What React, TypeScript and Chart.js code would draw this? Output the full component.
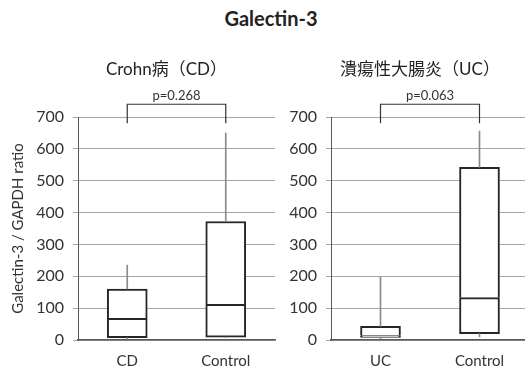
import React, { useEffect, useRef } from 'react';
import { Chart, registerables } from 'chart.js';
Chart.register(...registerables);

const mainTitle = 'Galectin-3';
const yAxisTitle = 'Galectin-3 / GAPDH ratio';
const yMin = 0;
const yMax = 700;
const yStep = 100;

const cdCategories = ['CD', 'Control'];
const cdMin = [3, 8];
const cdQ1 = [7, 9];
const cdMedian = [68, 112];
const cdQ3 = [160, 372];
const cdMax = [235, 650];
const cdTitle = 'Crohn病（CD）';
const cdP = 'p=0.268';

const ucCategories = ['UC', 'Control'];
const ucMin = [3, 10];
const ucQ1 = [8, 20];
const ucMedian = [14, 133];
const ucQ3 = [43, 542];
const ucMax = [198, 656];
const ucTitle = '潰瘍性大腸炎（UC）';
const ucP = 'p=0.063';

const bracketTop = 740;
const bracketLeg = 680;

const LATIN = 'Lato, "Noto Sans CJK JP", sans-serif';

function makeConfig(
  cats: string[], mn: number[], q1: number[], med: number[], q3: number[], mx: number[],
  title: string, p: string, showYTitle: boolean, axisWidth: number, padRight: number
): any {
  const decor = {
    id: 'decor',
    afterDraw(chart: any) {
      const { ctx, chartArea, scales } = chart;
      const x0 = scales.x.getPixelForValue(0);
      const x1 = scales.x.getPixelForValue(1);
      const yTop = scales.y.getPixelForValue(bracketTop);
      const yLeg = scales.y.getPixelForValue(bracketLeg);
      ctx.save();
      ctx.strokeStyle = '#333';
      ctx.lineWidth = 1.2;
      ctx.beginPath();
      ctx.moveTo(x0, yLeg);
      ctx.lineTo(x0, yTop);
      ctx.lineTo(x1, yTop);
      ctx.lineTo(x1, yLeg);
      ctx.stroke();
      ctx.fillStyle = '#333';
      ctx.font = '13px ' + LATIN;
      ctx.textAlign = 'center';
      ctx.textBaseline = 'alphabetic';
      ctx.fillText(p, (x0 + x1) / 2, yTop - 4);
      ctx.fillStyle = '#222';
      ctx.font = '17px ' + LATIN;
      ctx.textBaseline = 'middle';
      ctx.fillText(title, (chartArea.left + chartArea.right) / 2 - 10, chartArea.top - 47);
      ctx.restore();
    },
  };
  const whisker = (data: number[][]) => ({
    data,
    backgroundColor: '#8a8a8a',
    borderWidth: 0,
    barThickness: 1,
    grouped: false,
  });
  const box = (data: number[][], bw: any) => ({
    data,
    backgroundColor: '#ffffff',
    borderColor: '#262626',
    borderWidth: bw,
    borderSkipped: false,
    barThickness: 40,
    grouped: false,
  });
  return {
    type: 'bar',
    data: {
      labels: cats,
      datasets: [
        whisker(cats.map((_, i) => [mn[i], q1[i]])),
        whisker(cats.map((_, i) => [q3[i], mx[i]])),
        box(cats.map((_, i) => [q1[i], med[i]]), 2),
        box(cats.map((_, i) => [med[i], q3[i]]), { top: 2, left: 2, right: 2, bottom: 0 }),
      ],
    },
    options: {
      responsive: false,
      animation: false,
      layout: { padding: { top: 117, left: 0, right: padRight, bottom: 0 } },
      plugins: { legend: { display: false }, tooltip: { enabled: false }, title: { display: false } },
      scales: {
        x: {
          grid: { display: false, drawTicks: false },
          border: { display: true, color: '#595959', width: 1.5 },
          ticks: { color: '#333', font: { family: LATIN, size: 15 }, padding: 12 },
          afterFit: (s: any) => { s.height = 34; },
        },
        y: {
          min: yMin,
          max: yMax,
          ticks: { stepSize: yStep, color: '#333', font: { family: LATIN, size: 16 }, padding: 9 },
          grid: { color: '#a6a6a6', lineWidth: 1, tickLength: 5, drawTicks: true },
          border: { display: true, color: '#595959', width: 1 },
          title: {
            display: showYTitle,
            text: yAxisTitle,
            color: '#333',
            font: { family: LATIN, size: 15 },
            padding: { top: 9, bottom: 0 },
          },
          afterFit: (s: any) => { s.width = axisWidth; },
        },
      },
    },
    plugins: [decor],
  };
}

export default function App() {
  const leftRef = useRef<HTMLCanvasElement>(null);
  const rightRef = useRef<HTMLCanvasElement>(null);
  useEffect(() => {
    const a = new Chart(leftRef.current as HTMLCanvasElement,
      makeConfig(cdCategories, cdMin, cdQ1, cdMedian, cdQ3, cdMax, cdTitle, cdP, true, 78, 5));
    const b = new Chart(rightRef.current as HTMLCanvasElement,
      makeConfig(ucCategories, ucMin, ucQ1, ucMedian, ucQ3, ucMax, ucTitle, ucP, false, 71, 6));
    return () => { a.destroy(); b.destroy(); };
  }, []);
  return (
    <div style={{ position: 'fixed', left: 0, top: 0, width: 525, height: 374, overflow: 'hidden', background: '#fff' }}>
      <div style={{ position: 'absolute', left: 171, top: 7, width: 200, textAlign: 'center', font: 'bold 20px ' + LATIN, lineHeight: '22px', color: '#222' }}>
        {mainTitle}
      </div>
      <canvas ref={leftRef} width={280} height={374} style={{ position: 'absolute', left: 0, top: 0, display: 'block' }} />
      <canvas ref={rightRef} width={275} height={374} style={{ position: 'absolute', left: 260, top: 0, display: 'block' }} />
    </div>
  );
}
